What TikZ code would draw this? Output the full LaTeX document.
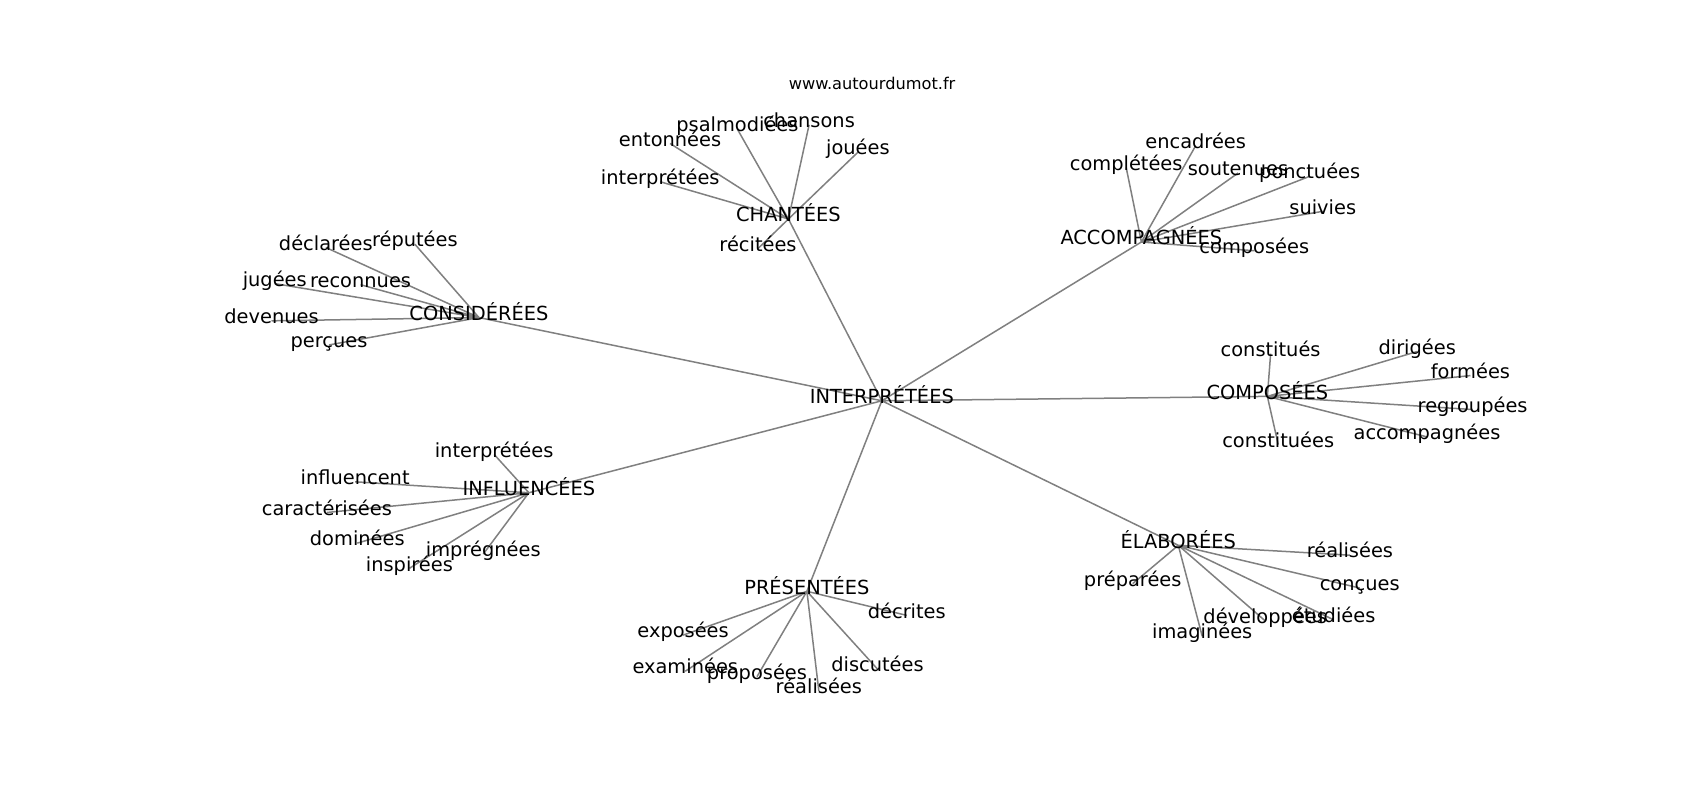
\documentclass[tikz,border=0pt]{standalone}
\usepackage{fontspec}
\setmainfont{DejaVu Sans}
\usetikzlibrary{backgrounds}
\begin{document}
\begin{tikzpicture}[x=1.086pt,y=-1.095pt,
  lbl/.style={font=\fontsize{19.4}{22}\selectfont, inner sep=0pt, text height=0.76em, text depth=0.22em, anchor=center},
  ttl/.style={font=\fontsize{16.2}{19}\selectfont, inner sep=0pt, anchor=center},
  edge/.style={draw=gray, line width=1.5pt}]
\useasboundingbox (0pt,0pt) rectangle (1700pt,-800pt);
\node[ttl] (title) at (803,76) {www.autourdumot.fr};
\path
 (812,366) node[lbl] (hub) {INTERPRÉTÉES}
 (726,200) node[lbl] (ch) {CHANTÉES}
 (745,114) node[lbl] (ch1) {chansons}
 (679,118) node[lbl] (ch2) {psalmodiées}
 (617,131) node[lbl] (ch3) {entonnées}
 (790,139) node[lbl] (ch4) {jouées}
 (608,166) node[lbl] (ch5) {interprétées}
 (698,227) node[lbl] (ch6) {récitées}
 (1051,221) node[lbl] (ac) {ACCOMPAGNÉES}
 (1101,133) node[lbl] (ac1) {encadrées}
 (1037,153) node[lbl] (ac2) {complétées}
 (1140,158) node[lbl] (ac3) {soutenues}
 (1206,161) node[lbl] (ac4) {ponctuées}
 (1218,193) node[lbl] (ac5) {suivies}
 (1155,229) node[lbl] (ac6) {composées}
 (441,290) node[lbl] (co) {CONSIDÉRÉES}
 (300,226) node[lbl] (co1) {déclarées}
 (382,223) node[lbl] (co2) {réputées}
 (253,259) node[lbl] (co3) {jugées}
 (332,260) node[lbl] (co4) {reconnues}
 (250,293) node[lbl] (co5) {devenues}
 (303,315) node[lbl] (co6) {perçues}
 (1167,362) node[lbl] (cp) {COMPOSÉES}
 (1170,323) node[lbl] (cp1) {constitués}
 (1305,321) node[lbl] (cp2) {dirigées}
 (1354,343) node[lbl] (cp3) {formées}
 (1356,374) node[lbl] (cp4) {regroupées}
 (1314,399) node[lbl] (cp5) {accompagnées}
 (1177,406) node[lbl] (cp6) {constituées}
 (487,450) node[lbl] (in) {INFLUENCÉES}
 (455,415) node[lbl] (in1) {interprétées}
 (327,440) node[lbl] (in2) {influencent}
 (301,468) node[lbl] (in3) {caractérisées}
 (329,496) node[lbl] (in4) {dominées}
 (377,519) node[lbl] (in5) {inspirées}
 (445,506) node[lbl] (in6) {imprégnées}
 (743,540) node[lbl] (pr) {PRÉSENTÉES}
 (835,562) node[lbl] (pr1) {décrites}
 (629,580) node[lbl] (pr2) {exposées}
 (631,613) node[lbl] (pr3) {examinées}
 (697,618) node[lbl] (pr4) {proposées}
 (754,631) node[lbl] (pr5) {réalisées}
 (808,611) node[lbl] (pr6) {discutées}
 (1085,498) node[lbl] (el) {ÉLABORÉES}
 (1243,507) node[lbl] (el1) {réalisées}
 (1252,537) node[lbl] (el2) {conçues}
 (1043,533) node[lbl] (el3) {préparées}
 (1165,567) node[lbl] (el4) {développées}
 (1228,566) node[lbl] (el5) {étudiées}
 (1107,581) node[lbl] (el6) {imaginées};
\begin{scope}[on background layer]
\fill[white] (0pt,0pt) rectangle (1700pt,-800pt);
\path[edge]
 \foreach \c in {ch,ac,co,cp,in,pr,el} {(hub.center) -- (\c.center)}
 \foreach \c in {ch1,ch2,ch3,ch4,ch5,ch6} {(ch.center) -- (\c.center)}
 \foreach \c in {ac1,ac2,ac3,ac4,ac5,ac6} {(ac.center) -- (\c.center)}
 \foreach \c in {co1,co2,co3,co4,co5,co6} {(co.center) -- (\c.center)}
 \foreach \c in {cp1,cp2,cp3,cp4,cp5,cp6} {(cp.center) -- (\c.center)}
 \foreach \c in {in1,in2,in3,in4,in5,in6} {(in.center) -- (\c.center)}
 \foreach \c in {pr1,pr2,pr3,pr4,pr5,pr6} {(pr.center) -- (\c.center)}
 \foreach \c in {el1,el2,el3,el4,el5,el6} {(el.center) -- (\c.center)};
\end{scope}
\end{tikzpicture}
\end{document}
